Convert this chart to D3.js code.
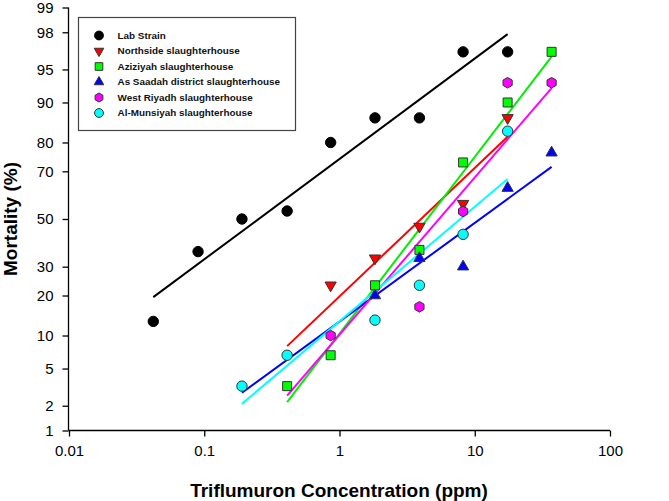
<!DOCTYPE html>
<html><head><meta charset="utf-8">
<script src="https://cdn.jsdelivr.net/npm/d3@7"></script>
<style>body{margin:0;background:#fff} svg{display:block;font-family:"Liberation Sans",Arial,sans-serif}</style>
</head><body><svg id="c" width="669" height="501"></svg>
<script>
// ---- data ----
const seriesNames = ["Lab Strain","Northside slaughterhouse","Aziziyah slaughterhouse","As Saadah district slaughterhouse","West Riyadh slaughterhouse","Al-Munsiyah slaughterhouse"];
const labConc = [0.042,0.09,0.19,0.41,0.86,1.83,3.9,8.2,17.5];
const labMort = [13,36,50,53.5,80,86.7,86.7,96.7,96.7];
const northConc = [0.86,1.83,3.9,8.2,17.5];
const northMort = [23.3,33.3,46.7,56.7,86.7];
const azizConc = [0.41,0.86,1.83,3.9,8.2,17.5,37];
const azizMort = [3.3,6.7,23.3,36.7,73.3,90,96.7];
const saadahConc = [1.83,3.9,8.2,17.5,37];
const saadahMort = [20,33.3,30,63.3,76.7];
const westConc = [0.86,3.9,8.2,17.5,37];
const westMort = [10,16.7,53.3,93.3,93.3];
const munsConc = [0.19,0.41,1.83,3.9,8.2,17.5];
const munsMort = [3.3,6.7,13.3,23.3,43.3,83.3];
// fitted probit lines: [start, end]
const labFitConc = [0.042,17.5], labFitMort = [19.5,97.9];
const northFitConc = [0.41,17.5], northFitMort = [8.1,81.7];
const azizFitConc = [0.41,37], azizFitMort = [2.2,96.3];
const saadahFitConc = [0.19,37], saadahFitMort = [2.8,71.7];
const westFitConc = [0.41,37], westFitMort = [2.6,92.5];
const munsFitConc = [0.19,17.5], munsFitMort = [2.1,67.0];
const xTicks = [0.01,0.1,1,10,100];
const xTickLabels = ["0.01","0.1","1","10","100"];
const yTicks = [1,2,5,10,20,30,50,70,80,90,95,98,99];

// ---- helpers ----
function probit(p){ // inverse normal CDF (Acklam)
  const a=[-3.969683028665376e+01,2.209460984245205e+02,-2.759285104469687e+02,1.383577518672690e+02,-3.066479806614716e+01,2.506628277459239e+00];
  const b=[-5.447609879822406e+01,1.615858368580409e+02,-1.556989798598866e+02,6.680131188771972e+01,-1.328068155288572e+01];
  const c=[-7.784894002430293e-03,-3.223964580411365e-01,-2.400758277161838e+00,-2.549671010115381e+00,4.374664141464968e+00,2.938163982698783e+00];
  const d=[7.784695709041462e-03,3.224671290700398e-01,2.445134137142996e+00,3.754408661907416e+00];
  const pl=0.02425;
  let q,r;
  if(p<pl){q=Math.sqrt(-2*Math.log(p));return (((((c[0]*q+c[1])*q+c[2])*q+c[3])*q+c[4])*q+c[5])/((((d[0]*q+d[1])*q+d[2])*q+d[3])*q+1);}
  if(p<=1-pl){q=p-0.5;r=q*q;return (((((a[0]*r+a[1])*r+a[2])*r+a[3])*r+a[4])*r+a[5])*q/(((((b[0]*r+b[1])*r+b[2])*r+b[3])*r+b[4])*r+1);}
  q=Math.sqrt(-2*Math.log(1-p));return -(((((c[0]*q+c[1])*q+c[2])*q+c[3])*q+c[4])*q+c[5])/((((d[0]*q+d[1])*q+d[2])*q+d[3])*q+1);
}
const pz = v => probit(v/100);

const svg = d3.select("#c");
const x = d3.scaleLog().domain([0.01,100]).range([69,610]);
const yz = d3.scaleLinear().domain([pz(1),pz(99)]).range([430.5,7.5]);
const y = v => yz(pz(v));

// axes
const xAxis = d3.axisBottom(x).tickValues(xTicks).tickFormat((d,i)=>xTickLabels[i]).tickSize(6).tickPadding(9);
const gx = svg.append("g").attr("transform","translate(0,430.5)").call(xAxis);
const yAxis = d3.axisLeft(yz).tickValues(yTicks.map(pz)).tickFormat((d,i)=>String(yTicks[i])).tickSize(6).tickPadding(9);
const gy = svg.append("g").attr("transform","translate(68.5,0)").call(yAxis);
[gx,gy].forEach(g=>{
  g.select(".domain").attr("stroke","#000").attr("stroke-width",1.3);
  g.selectAll(".tick line").attr("stroke","#000").attr("stroke-width",1.3);
  g.selectAll(".tick text").attr("font-size",15).attr("fill","#000").attr("font-family","Liberation Sans, Arial, sans-serif");
});
gx.select(".domain").attr("d","M68.5,0H610");
gy.select(".domain").attr("d","M0,430.5V7.5");

// titles
svg.append("text").attr("x",339).attr("y",497).attr("text-anchor","middle")
  .attr("font-size",19).attr("font-weight","bold").text("Triflumuron Concentration (ppm)");
svg.append("text").attr("transform","translate(17,219) rotate(-90)").attr("text-anchor","middle")
  .attr("font-size",19).attr("font-weight","bold").text("Mortality (%)");

// series definitions
const series = [
  {conc:labConc, mort:labMort, fc:labFitConc, fm:labFitMort, line:"#000000", fill:"#000000", stroke:"#000000", shape:"circle"},
  {conc:northConc, mort:northMort, fc:northFitConc, fm:northFitMort, line:"#ff0000", fill:"#ff0000", stroke:"#333", shape:"tridown"},
  {conc:azizConc, mort:azizMort, fc:azizFitConc, fm:azizFitMort, line:"#00ee00", fill:"#00ff00", stroke:"#333", shape:"square"},
  {conc:saadahConc, mort:saadahMort, fc:saadahFitConc, fm:saadahFitMort, line:"#0000ff", fill:"#0000ff", stroke:"#333", shape:"triup"},
  {conc:westConc, mort:westMort, fc:westFitConc, fm:westFitMort, line:"#ff00ff", fill:"#ff00ff", stroke:"#333", shape:"hex"},
  {conc:munsConc, mort:munsMort, fc:munsFitConc, fm:munsFitMort, line:"#00ffff", fill:"#00ffff", stroke:"#333", shape:"circle"}
];
function shapePath(shape, s){
  if(shape==="circle") return d3.symbol(d3.symbolCircle, 85*s*s)();
  if(shape==="square") return d3.symbol(d3.symbolSquare, 81*s*s)();
  if(shape==="triup") return d3.symbol(d3.symbolTriangle, 55*s*s)();
  if(shape==="tridown") return d3.symbol(d3.symbolTriangle, 55*s*s)();
  if(shape==="hex"){
    const r=5.3*s; const pts=d3.range(6).map(i=>{const a=Math.PI/3*i - Math.PI/2; return [r*Math.cos(a), r*Math.sin(a)];});
    return "M"+pts.map(p=>p.join(",")).join("L")+"Z";
  }
}
const line = d3.line().x(d=>x(d[0])).y(d=>y(d[1]));
series.forEach(s=>{
  svg.append("path").attr("d", line(s.fc.map((c,i)=>[c,s.fm[i]])))
    .attr("stroke",s.line).attr("stroke-width",2).attr("fill","none");
});
series.forEach(s=>{
  svg.append("g").selectAll("path").data(s.conc.map((c,i)=>[c,s.mort[i]])).join("path")
    .attr("d",shapePath(s.shape,1))
    .attr("transform",d=>`translate(${x(d[0])},${y(d[1])})`+(s.shape==="tridown"?" rotate(180)":""))
    .attr("fill",s.fill).attr("stroke",s.stroke).attr("stroke-width",1);
});

// legend
const lg = svg.append("g");
lg.append("rect").attr("x",78.5).attr("y",17.5).attr("width",217).attr("height",113)
  .attr("fill","#fff").attr("stroke","#444").attr("stroke-width",1.2);
series.forEach((s,i)=>{
  const yy = 35.5 + i*15.5;
  lg.append("path").attr("d",shapePath(s.shape,0.85))
    .attr("transform",`translate(99,${yy})`+(s.shape==="tridown"?" rotate(180)":""))
    .attr("fill",s.fill).attr("stroke",s.stroke).attr("stroke-width",1);
  lg.append("text").attr("x",117.5).attr("y",yy).attr("dy","0.35em")
    .attr("font-size",9.9).attr("font-weight","bold").attr("fill","#111").text(seriesNames[i]);
});
</script></body></html>
